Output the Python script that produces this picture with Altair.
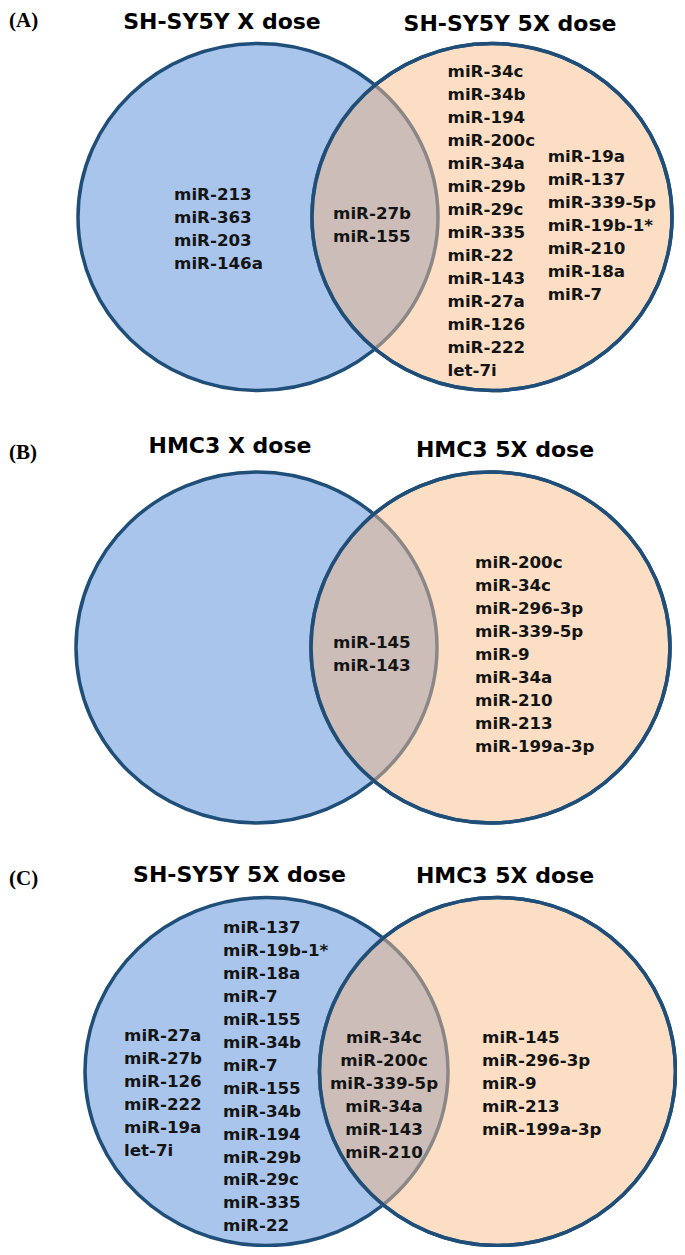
import math
import altair as alt
import pandas as pd

# ---------------- data (labels) ----------------
panel_labels = ["(A)", "(B)", "(C)"]
titles_left = ["SH-SY5Y X dose", "HMC3 X dose", "SH-SY5Y 5X dose"]
titles_right = ["SH-SY5Y 5X dose", "HMC3 5X dose", "HMC3 5X dose"]

A_only_left = ["miR-213", "miR-363", "miR-203", "miR-146a"]
A_both = ["miR-27b", "miR-155"]
A_only_right_1 = ["miR-34c", "miR-34b", "miR-194", "miR-200c", "miR-34a", "miR-29b",
                  "miR-29c", "miR-335", "miR-22", "miR-143", "miR-27a", "miR-126",
                  "miR-222", "let-7i"]
A_only_right_2 = ["miR-19a", "miR-137", "miR-339-5p", "miR-19b-1*", "miR-210", "miR-18a", "miR-7"]

B_both = ["miR-145", "miR-143"]
B_only_right = ["miR-200c", "miR-34c", "miR-296-3p", "miR-339-5p", "miR-9", "miR-34a",
                "miR-210", "miR-213", "miR-199a-3p"]

C_only_left_1 = ["miR-27a", "miR-27b", "miR-126", "miR-222", "miR-19a", "let-7i"]
C_only_left_2 = ["miR-137", "miR-19b-1*", "miR-18a", "miR-7", "miR-155", "miR-34b", "miR-7",
                 "miR-155", "miR-34b", "miR-194", "miR-29b", "miR-29c", "miR-335", "miR-22"]
C_both = ["miR-34c", "miR-200c", "miR-339-5p", "miR-34a", "miR-143", "miR-210"]
C_only_right = ["miR-145", "miR-296-3p", "miR-9", "miR-213", "miR-199a-3p"]

# ---------------- layout / style ----------------
W, H = 669, 1239
NAVY = "#1F4E79"
BLUE = "#A9C5EB"
PEACH = "#FBDEC4"
LENS = "#CDBDB8"
GRAY = "#8C8787"
SW = 3.5
LINE = 22.95
FONT = "DejaVu Sans"

# ellipse geometry per panel: (cxL, rxL, cxR, rxR, cy, ry)
geom = [
    (258.0, 180.0, 492.0, 180.0, 217.0, 173.5),
    (256.5, 180.5, 490.5, 179.5, 647.5, 175.5),
    (266.5, 181.5, 497.5, 178.0, 1071.5, 174.0),
]
title_pos = [((222, 29), (510, 31)), ((230, 453), (505, 457)), ((239.5, 882), (505, 883))]
label_base = [27, 459, 885]

# text blocks: (list, x, first_y, align)
blocks = [
    (A_only_left, 174, 195, "left"),
    (A_both, 333, 214, "left"),
    (A_only_right_1, 447.5, 72.3, "left"),
    (A_only_right_2, 547.7, 157.3, "left"),
    (B_both, 333, 643, "left"),
    (B_only_right, 475, 563, "left"),
    (C_only_left_1, 124, 1036, "left"),
    (C_only_left_2, 223, 928, "left"),
    (C_both, 384, 1038, "center"),
    (C_only_right, 482, 1038, "left"),
]


def ellipse_path(rx, ry):
    return f"M {-rx} 0 A {rx} {ry} 0 1 0 {rx} 0 A {rx} {ry} 0 1 0 {-rx} 0 Z"


ell_rows, lens_rows, rstroke_rows = [], [], []
for cxL, rxL, cxR, rxR, cy, ry in geom:
    ell_rows.append(dict(x=cxL, y=cy, shape=ellipse_path(rxL, ry), fill=BLUE))
    ell_rows.append(dict(x=cxR, y=cy, shape=ellipse_path(rxR, ry), fill=PEACH))
    xm = (cxL * rxR + cxR * rxL) / (rxL + rxR)
    h = ry * math.sqrt(1 - ((xm - cxL) / rxL) ** 2)
    lens = f"M 0 {-h} A {rxR} {ry} 0 0 0 0 {h} A {rxL} {ry} 0 0 0 0 {-h} Z"
    lens_rows.append(dict(x=xm, y=cy, shape=lens))
    rstroke_rows.append(dict(x=cxR, y=cy, shape=ellipse_path(rxR, ry)))

text_left, text_center = [], []
for items, x, y0, align in blocks:
    for i, t in enumerate(items):
        row = dict(x=x, y=y0 + i * LINE, text=t)
        (text_left if align == "left" else text_center).append(row)

title_rows = []
for (l, r), tl, tr in zip(title_pos, titles_left, titles_right):
    title_rows.append(dict(x=l[0], y=l[1], text=tl))
    title_rows.append(dict(x=r[0], y=r[1], text=tr))
label_rows = [dict(x=9, y=yy, text=t) for yy, t in zip(label_base, panel_labels)]

xs = alt.Scale(domain=[8, 8 + W], range=[0, W], zero=False, nice=False)
ys = alt.Scale(domain=[8, 8 + H], range=[0, H], zero=False, nice=False)
X = alt.X("x:Q", scale=xs, axis=None)
Y = alt.Y("y:Q", scale=ys, axis=None)

ellipses = alt.Chart(pd.DataFrame(ell_rows)).mark_point(
    filled=True, opacity=1, stroke=NAVY, strokeWidth=SW, strokeOpacity=1, fillOpacity=1
).encode(x=X, y=Y, shape=alt.Shape("shape:N", scale=None),
         fill=alt.Fill("fill:N", scale=None), size=alt.value(4))

lens_layer = alt.Chart(pd.DataFrame(lens_rows)).mark_point(
    filled=True, opacity=1, fill=LENS, stroke=GRAY, strokeWidth=SW, strokeOpacity=1
).encode(x=X, y=Y, shape=alt.Shape("shape:N", scale=None), size=alt.value(4))

rstroke = alt.Chart(pd.DataFrame(rstroke_rows)).mark_point(
    filled=False, opacity=1, stroke=NAVY, strokeWidth=SW, strokeOpacity=1
).encode(x=X, y=Y, shape=alt.Shape("shape:N", scale=None), size=alt.value(4))

tl_layer = alt.Chart(pd.DataFrame(text_left)).mark_text(
    align="left", baseline="middle", font=FONT, fontWeight="bold", fontSize=16.7, color="#141414"
).encode(x=X, y=Y, text="text:N")

tc_layer = alt.Chart(pd.DataFrame(text_center)).mark_text(
    align="center", baseline="middle", font=FONT, fontWeight="bold", fontSize=16.7, color="#141414"
).encode(x=X, y=Y, text="text:N")

titles = alt.Chart(pd.DataFrame(title_rows)).mark_text(
    align="center", baseline="alphabetic", font=FONT, fontWeight="bold", fontSize=22, color="#000000"
).encode(x=X, y=Y, text="text:N")

labels = alt.Chart(pd.DataFrame(label_rows)).mark_text(
    align="left", baseline="alphabetic", font="Liberation Serif", fontWeight="bold", fontSize=21, color="#000000"
).encode(x=X, y=Y, text="text:N")

chart = alt.layer(ellipses, lens_layer, rstroke, tl_layer, tc_layer, titles, labels).properties(
    width=W, height=H, padding=0, autosize=alt.AutoSizeParams(type="none"),
    background="#FFFFFF"
).configure_view(stroke=None)

chart.save("out.html", embed_options={"renderer": "svg", "actions": False})
